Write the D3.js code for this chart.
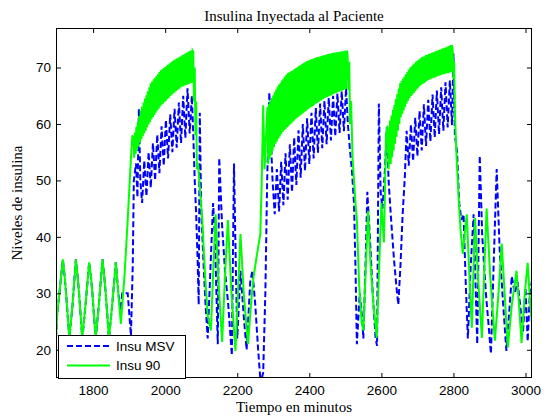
<!DOCTYPE html>
<html>
<head>
<meta charset="utf-8" />
<title>Insulina Inyectada al Paciente</title>
<script src="https://cdn.jsdelivr.net/npm/d3@7"></script>
<style>
  body { margin: 0; background: #fff; }
</style>
</head>
<body>
<div id="chart"></div>
<script>
// ---- datos: [minuto, nivel] ----
// Insu MSV (azul, discontinua)
var msvInicio = [[1697,22],[1700,26],[1708,31],[1716,36],[1721,33],[1725,30],[1734,22],[1743,28],[1752,36],[1757,33],[1761,30],[1770,22],[1779,28],[1789,35.5],[1794,33],[1798,30],[1807,22],[1816,28],[1826,36],[1831,33],[1835,30],[1844,22],[1853,28],[1863,35.5],[1870,30],[1876,27],[1881,30],[1896,30],[1905,22.5],[1910,35],[1913,50],[1919,53],[1923,47],[1927,62.7],[1931,50],[1936,46]];
var msvBanda1 = [[1942,53.5],[1948,47.2],[1954,55],[1960,48.7],[1966,56.6],[1972,50],[1978,58.1],[1984,51.3],[1990,59.6],[1996,52.6],[2002,60.7],[2008,53.9],[2014,61.7],[2020,55],[2026,62.7],[2032,55.8],[2038,63.8],[2044,56.6],[2050,65],[2056,57.5],[2062,66.3],[2068,58.3],[2074,65]];
var msvTramo2 = [[2078,58],[2082,50],[2086,44],[2090,36],[2093,28],[2096,62],[2100,45],[2106,36],[2112,28],[2118,22],[2126,35],[2133,46],[2138,40],[2146,21],[2150,54],[2158,42],[2166,34],[2175,28],[2185,19],[2191,53],[2196,35],[2200,22],[2209,34],[2218,26],[2226,20],[2236,32],[2242,34],[2250,28],[2258,20],[2265,14],[2272,16],[2278,30],[2283,50],[2289,65.6],[2293,58],[2298,50],[2304,44]];
var msvBanda2 = [[2310,52],[2316,44.5],[2322,53.3],[2328,45.6],[2334,54.8],[2340,46.6],[2346,56.4],[2352,47.9],[2358,57.6],[2364,49.2],[2370,58.9],[2376,50.5],[2382,60],[2388,51.7],[2394,61],[2400,52.9],[2406,62],[2412,53.9],[2418,62.8],[2424,54.9],[2430,63.6],[2436,55.7],[2442,64.1],[2448,56.4],[2454,64.6],[2460,57.1],[2466,65],[2472,57.8],[2478,65.4],[2484,58.4],[2490,65.8],[2496,58.7],[2502,66.3]];
var msvTramo3 = [[2507,60],[2512,56],[2518,52],[2524,46],[2528,35],[2532,21],[2540,30],[2546,26],[2550,22],[2556,35],[2561,48],[2568,40],[2576,30],[2584,22],[2588,20.7],[2593,63.6],[2598,48],[2603,45],[2610,52],[2615,59.4],[2620,50],[2626,44],[2635,36],[2642,31],[2647,28],[2653,35],[2659,44],[2665,50.5]];
var msvBanda3 = [[2670,58.8],[2676,52.6],[2682,59.9],[2688,53.4],[2694,61.1],[2700,54.3],[2706,62.3],[2712,55.3],[2718,63.5],[2724,56.1],[2730,64.3],[2736,56.9],[2742,65.2],[2748,57.6],[2754,65.9],[2760,58.2],[2766,66.5],[2772,58.8],[2778,67.4],[2784,59.4],[2790,67.7],[2796,59.8]];
var msvFinal = [[2800,72.5],[2804,58],[2810,55],[2816,46],[2822,43],[2828,44],[2834,32],[2840,22],[2848,35],[2856,44],[2862,30],[2866,21],[2873,54.4],[2880,40],[2890,30],[2898,24],[2904,19.3],[2912,36],[2920,52],[2928,38],[2938,28],[2947,19.8],[2955,27],[2962,33],[2970,30],[2978,32],[2985,28],[2993,23],[3000,31],[3006,21.5],[3012,30],[3020,33]];

// Insu 90 (verde, continua)
var i90Inicio = [[1697,22],[1700,26],[1708,31],[1716,36],[1721,33],[1725,30],[1734,22],[1743,28],[1752,36],[1757,33],[1761,30],[1770,22],[1779,28],[1789,35.5],[1794,33],[1798,30],[1807,22],[1816,28],[1826,36],[1831,33],[1835,30],[1844,22],[1853,28],[1863,35.5],[1870,30],[1877,24.6],[1887,33],[1896,43],[1905,54],[1909,58]];
var i90Banda1 = [[1912,57.5],[1914,54],[1916,58.5],[1918,54.7],[1920,59.5],[1922,55.3],[1924,60.4],[1926,56],[1928,61.4],[1930,56.7],[1932,62.4],[1934,57.3],[1936,63.1],[1938,57.8],[1940,63.8],[1942,58.3],[1944,64.5],[1946,58.8],[1948,65.1],[1950,59.4],[1952,65.8],[1954,59.9],[1956,66.5],[1958,60.3],[1960,67.2],[1962,60.8],[1964,67.5],[1966,61.2],[1968,67.9],[1970,61.6],[1972,68.2],[1974,62],[1976,68.5],[1978,62.4],[1980,68.8],[1982,62.7],[1984,69.2],[1986,63.1],[1988,69.5],[1990,63.4],[1992,69.7],[1994,63.6],[1996,69.9],[1998,63.9],[2000,70.1],[2002,64.1],[2004,70.3],[2006,64.4],[2008,70.5],[2010,64.6],[2012,70.7],[2014,64.9],[2016,70.9],[2018,65.2],[2020,71.1],[2022,65.4],[2024,71.3],[2026,65.6],[2028,71.4],[2030,65.8],[2032,71.6],[2034,66],[2036,71.7],[2038,66.2],[2040,71.9],[2042,66.4],[2044,72],[2046,66.6],[2048,72.2],[2050,66.7],[2052,72.3],[2054,66.8],[2056,72.5],[2058,66.9],[2060,72.6],[2062,67],[2064,72.8],[2066,67.1],[2068,72.9],[2070,67.2],[2072,73],[2074,67.3],[2076,73]];
var i90Tramo2 = [[2078,72.8],[2080,64],[2082,70],[2084,58],[2086,64],[2088,52],[2091,53],[2097,48],[2103,43],[2110,34],[2118,26],[2127,23.4],[2134,35],[2140,44],[2148,32],[2158,21.4],[2166,33],[2174,43],[2184,30],[2195,19.8],[2202,30],[2209,40.5],[2218,30],[2230,21],[2238,28],[2245,32.8],[2255,37],[2264,40.5],[2268,50],[2272,63.3],[2276,52],[2280,58]];
var i90Banda2 = [[2284,63],[2286,52.9],[2288,63.6],[2290,53.7],[2292,64.1],[2294,54.4],[2296,64.6],[2298,55.2],[2300,65.1],[2302,55.9],[2304,65.6],[2306,56.5],[2308,66.1],[2310,56.9],[2312,66.6],[2314,57.4],[2316,67],[2318,57.8],[2320,67.3],[2322,58.2],[2324,67.7],[2326,58.6],[2328,68],[2330,58.9],[2332,68.4],[2334,59.1],[2336,68.7],[2338,59.4],[2340,69],[2342,59.6],[2344,69.1],[2346,59.9],[2348,69.3],[2350,60.1],[2352,69.4],[2354,60.4],[2356,69.6],[2358,60.6],[2360,69.8],[2362,60.9],[2364,69.9],[2366,61.1],[2368,70.1],[2370,61.3],[2372,70.3],[2374,61.5],[2376,70.4],[2378,61.7],[2380,70.6],[2382,61.9],[2384,70.8],[2386,62.1],[2388,70.9],[2390,62.3],[2392,71.1],[2394,62.5],[2396,71.2],[2398,62.7],[2400,71.3],[2402,62.9],[2404,71.4],[2406,63],[2408,71.5],[2410,63.2],[2412,71.6],[2414,63.4],[2416,71.7],[2418,63.6],[2420,71.8],[2422,63.7],[2424,71.85],[2426,63.9],[2428,71.9],[2430,64.1],[2432,72],[2434,64.2],[2436,72.1],[2438,64.4],[2440,72.15],[2442,64.6],[2444,72.2],[2446,64.7],[2448,72.3],[2450,64.8],[2452,72.4],[2454,64.9],[2456,72.45],[2458,65],[2460,72.5],[2462,65.1],[2464,72.55],[2466,65.3],[2468,72.6],[2470,65.4],[2472,72.65],[2474,65.5],[2476,72.7],[2478,65.6],[2480,72.75],[2482,65.7],[2484,72.8],[2486,65.8],[2488,72.85],[2490,65.9],[2492,72.9],[2494,66],[2496,72.9],[2498,66.1],[2500,73],[2502,66.2],[2504,73]];
var i90Tramo3 = [[2506,72.5],[2509,66],[2511,71],[2513,60],[2516,64],[2520,54],[2524,50],[2528,46],[2532,43],[2538,32],[2545,25],[2550,23.4],[2557,35],[2563,44.6],[2570,35],[2578,28],[2587,22.1],[2594,35],[2600,46],[2607,39],[2613,58],[2617,59.7],[2620,52]];
var i90Banda3 = [[2624,60.6],[2626,52.9],[2628,61.5],[2630,54.1],[2632,62.5],[2634,55.3],[2636,63.4],[2638,56.5],[2640,64.4],[2642,57.7],[2644,65.3],[2646,58.8],[2648,66.3],[2650,60],[2652,67.2],[2654,61.2],[2656,67.6],[2658,61.8],[2660,68],[2662,62.4],[2664,68.4],[2666,63],[2668,68.8],[2670,63.6],[2672,69.2],[2674,64.1],[2676,69.6],[2678,64.6],[2680,70],[2682,64.9],[2684,70.2],[2686,65.2],[2688,70.5],[2690,65.5],[2692,70.7],[2694,65.8],[2696,71],[2698,66.1],[2700,71.2],[2702,66.4],[2704,71.4],[2706,66.7],[2708,71.6],[2710,66.9],[2712,71.8],[2714,67.1],[2716,71.9],[2718,67.2],[2720,72],[2722,67.4],[2724,72.2],[2726,67.6],[2728,72.3],[2730,67.8],[2732,72.4],[2734,67.9],[2736,72.5],[2738,68],[2740,72.6],[2742,68.1],[2744,72.7],[2746,68.2],[2748,72.8],[2750,68.3],[2752,72.9],[2754,68.4],[2756,73],[2758,68.5],[2760,73.1],[2762,68.6],[2764,73.2],[2766,68.7],[2768,73.3],[2770,68.8],[2772,73.4],[2774,68.8],[2776,73.5],[2778,68.9],[2780,73.6],[2782,69],[2784,73.7],[2786,69],[2788,73.8],[2790,69.1],[2792,74],[2794,69.2],[2796,74]];
var i90Final = [[2798,73],[2800,68],[2802,71],[2804,62],[2808,55],[2812,50],[2816,45],[2820,41],[2826,37],[2832,41],[2837,44],[2845,32],[2851,23.9],[2856,35],[2860,43.4],[2868,33],[2879,22.1],[2886,35],[2892,45],[2902,33],[2915,21.6],[2925,30],[2934,38.8],[2942,30],[2951,20.4],[2962,28],[2975,34],[2982,28],[2989,21.2],[2998,30],[3006,35.4],[3013,28],[3020,23.4]];

var xTicks = [1800, 2000, 2200, 2400, 2600, 2800, 3000];
var yTicks = [20, 30, 40, 50, 60, 70];
var nombres = ["Insu MSV", "Insu 90"];

var insuMSV = [].concat(msvInicio, msvBanda1, msvTramo2, msvBanda2, msvTramo3, msvBanda3, msvFinal);
var insu90 = [].concat(i90Inicio, i90Banda1, i90Tramo2, i90Banda2, i90Tramo3, i90Banda3, i90Final);

// dimensiones
var margin = {top: 28, right: 14, bottom: 40, left: 56},
    width = 546 - margin.left - margin.right,
    height = 418 - margin.top - margin.bottom;

var svg = d3.select("#chart")
  .append("svg")
    .attr("width", 546)
    .attr("height", 418)
    .style("display", "block");

var g = svg.append("g")
    .attr("transform", "translate(" + margin.left + "," + margin.top + ")");

var x = d3.scaleLinear().domain([1697, 3018]).range([0, width]);
var y = d3.scaleLinear().domain([15, 77]).range([height, 0]);

g.append("clipPath").attr("id", "area")
  .append("rect").attr("width", width).attr("height", height);

var linea = d3.line()
  .x(function(d) { return x(d[0]); })
  .y(function(d) { return y(d[1]); });

var trazos = g.append("g").attr("clip-path", "url(#area)");

trazos.append("path")
  .datum(insuMSV)
  .attr("fill", "none")
  .attr("stroke", "#0000ff")
  .attr("stroke-width", 2)
  .attr("stroke-dasharray", "6,3")
  .attr("d", linea);

trazos.append("path")
  .datum(insu90)
  .attr("fill", "none")
  .attr("stroke", "#00ff00")
  .attr("stroke-width", 2)
  .attr("d", linea);

// ejes (ticks hacia dentro, como en MATLAB)
var fuenteEje = "'Liberation Sans', Arial, sans-serif";
var fmt = d3.format("d");

var ejeX = g.append("g")
  .attr("transform", "translate(0," + height + ")")
  .call(d3.axisBottom(x).tickValues(xTicks).tickFormat(fmt).tickSizeInner(-5).tickSizeOuter(0).tickPadding(7));
var ejeY = g.append("g")
  .call(d3.axisLeft(y).tickValues(yTicks).tickFormat(fmt).tickSizeInner(-5).tickSizeOuter(0).tickPadding(5));
var ejeX2 = g.append("g")
  .call(d3.axisTop(x).tickValues(xTicks).tickSizeInner(-5).tickSizeOuter(0).tickFormat(""));
var ejeY2 = g.append("g")
  .attr("transform", "translate(" + width + ",0)")
  .call(d3.axisRight(y).tickValues(yTicks).tickSizeInner(-5).tickSizeOuter(0).tickFormat(""));

[ejeX, ejeY, ejeX2, ejeY2].forEach(function(e) {
  e.select(".domain").remove();
  e.selectAll("line").attr("stroke", "#000");
  e.selectAll("text")
    .style("font-family", fuenteEje)
    .style("font-size", "13.5px")
    .attr("fill", "#000");
});

// marco
g.append("rect")
  .attr("x", 0.5).attr("y", 0.5)
  .attr("width", width - 1).attr("height", height - 1)
  .attr("fill", "none")
  .attr("stroke", "#000")
  .attr("stroke-width", 1);

// leyenda
var ley = g.append("g").attr("transform", "translate(2," + (height - 43) + ")");
ley.append("rect")
  .attr("x", 0.5).attr("y", 0.5)
  .attr("width", 127).attr("height", 43)
  .attr("fill", "#fff")
  .attr("stroke", "#000");

var estilos = [{c: "#0000ff", dash: "6,3"}, {c: "#00ff00", dash: null}];
nombres.forEach(function(n, i) {
  var yy = 11 + i * 19.5;
  ley.append("line")
    .attr("x1", 9).attr("x2", 52)
    .attr("y1", yy).attr("y2", yy)
    .attr("stroke", estilos[i].c)
    .attr("stroke-width", 2)
    .attr("stroke-dasharray", estilos[i].dash);
  ley.append("text")
    .attr("x", 58).attr("y", yy)
    .attr("dy", "0.35em")
    .style("font-family", fuenteEje)
    .style("font-size", "13.5px")
    .text(n);
});

// titulos
var fuenteTitulo = "'Liberation Serif', 'Times New Roman', serif";

svg.append("text")
  .attr("x", margin.left + width / 2)
  .attr("y", 21)
  .attr("text-anchor", "middle")
  .style("font-family", fuenteTitulo)
  .style("font-size", "15px")
  .text("Insulina Inyectada al Paciente");

svg.append("text")
  .attr("x", margin.left + width / 2)
  .attr("y", 412)
  .attr("text-anchor", "middle")
  .style("font-family", fuenteTitulo)
  .style("font-size", "15px")
  .text("Tiempo en minutos");

svg.append("text")
  .attr("transform", "translate(22," + (margin.top + height / 2) + ") rotate(-90)")
  .attr("text-anchor", "middle")
  .style("font-family", fuenteTitulo)
  .style("font-size", "15px")
  .text("Niveles de insulina");
</script>
</body>
</html>
